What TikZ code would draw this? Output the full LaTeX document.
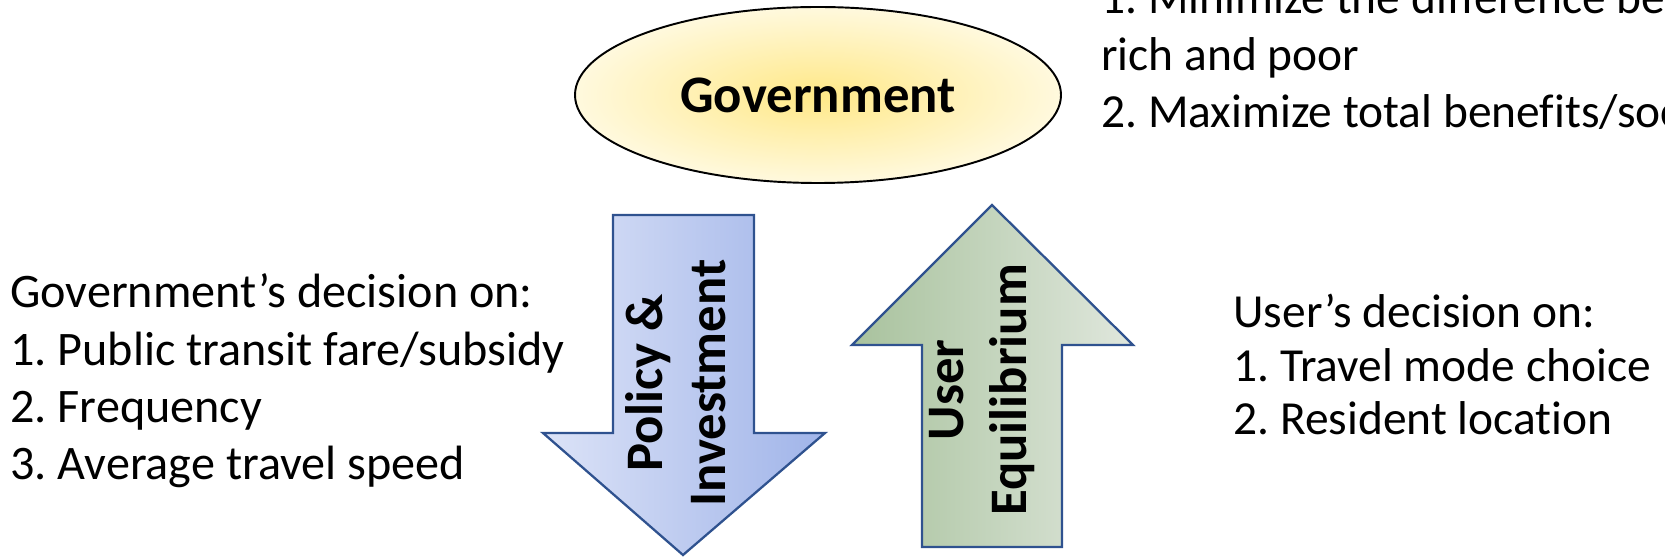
\documentclass[tikz,border=0pt]{standalone}
\usepackage{fontspec}
\setmainfont{Carlito}[Ligatures={TeX,NoCommon}]
\frenchspacing
\usetikzlibrary{shapes.geometric}
\definecolor{govinner}{RGB}{255,232,135}
\definecolor{govouter}{RGB}{255,249,222}
\definecolor{arrowline}{RGB}{47,82,143}
\definecolor{polleft}{RGB}{220,227,247}
\definecolor{polright}{RGB}{160,180,233}
\definecolor{ueleft}{RGB}{168,194,157}
\definecolor{ueright}{RGB}{224,231,221}
\tikzset{
    govnode/.style={ellipse, draw, line width=1.1pt, inner color=govinner, outer color=govouter, minimum width=9.72cm, minimum height=3.52cm, font=\fontsize{30}{36}\selectfont\bfseries},
    arrowshape/.style={draw=arrowline, line width=1.3pt, line join=miter},
    arrowtext/.style={rotate=90, align=center, font=\fontsize{30}{36}\selectfont\bfseries},
    listtext/.style={align=left, inner sep=0pt, font=\fontsize{27}{32.7}\selectfont},
}

\begin{document}
\begin{tikzpicture}
    \useasboundingbox (0,0) rectangle (33.3,11.14);

    % Government and its goals
    \node[govnode] (gov) at (16.36,9.24) {Government};
    \node[listtext, anchor=base west] (goals) at (22.02,8.58) {1. Minimize the difference between\\rich and poor\\2. Maximize total benefits/social welfare};

    % Down arrow
    \shade[arrowshape, left color=polleft, right color=polright] (12.26,6.84) -- (15.08,6.84) -- (15.08,2.48) -- (16.5,2.48) -- (13.66,0.04) -- (10.86,2.48) -- (12.26,2.48) -- cycle;
    \node[arrowtext] (policy) at (13.52,3.48) {Policy \&\\Investment};

    % Up arrow
    \shade[arrowshape, left color=ueleft, right color=ueright] (18.44,0.2) -- (21.24,0.2) -- (21.24,4.24) -- (22.66,4.24) -- (19.84,7.04) -- (17.04,4.24) -- (18.44,4.24) -- cycle;
    \node[arrowtext] (ue) at (19.64,3.34) {User\\Equilibrium};

    % Decisions on both sides
    \node[listtext, anchor=base west, font=\fontsize{27.4}{32.7}\selectfont] (govdec) at (0.2,1.54) {Government's decision on:\\1. Public transit fare/subsidy\\2. Frequency\\3. Average travel speed};
    \node[listtext, anchor=base west, font=\fontsize{27}{30.7}\selectfont] (userdec) at (24.66,2.44) {User's decision on:\\1. Travel mode choice\\2. Resident location};
\end{tikzpicture}
\end{document}
